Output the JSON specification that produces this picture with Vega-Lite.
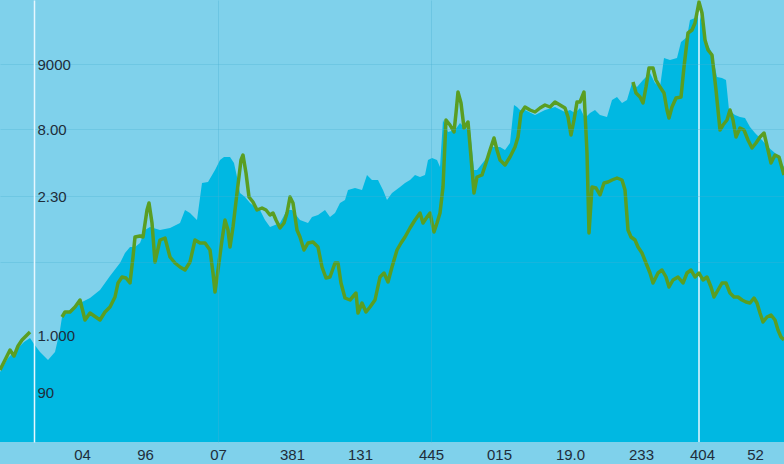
{
  "$schema": "https://vega.github.io/schema/vega-lite/v6.json",
  "width": 784,
  "height": 442,
  "autosize": {"type": "none"},
  "padding": {"left": 0, "top": 0, "right": 0, "bottom": 22},
  "background": "#7fd1eb",
  "config": {"view": {"stroke": null, "fill": "#7fd1eb"}},
  "datasets": {
    "area": [
      {"x":0,"v":70},{"x":8,"v":84},{"x":16,"v":92},{"x":24,"v":100},{"x":30,"v":104},{"x":34,"v":98},{"x":40,"v":90},{"x":48,"v":82},{"x":55,"v":90},{"x":60,"v":112},{"x":62,"v":125},{"x":70,"v":132},{"x":80,"v":139},{"x":90,"v":144},{"x":100,"v":152},{"x":110,"v":166},{"x":120,"v":179},{"x":125,"v":189},{"x":130,"v":195},{"x":135,"v":195},{"x":140,"v":199},{"x":145,"v":212},{"x":150,"v":215},{"x":160,"v":212},{"x":170,"v":214},{"x":180,"v":219},{"x":185,"v":232},{"x":190,"v":229},{"x":197,"v":222},{"x":202,"v":259},{"x":208,"v":260},{"x":215,"v":272},{"x":220,"v":282},{"x":224,"v":285},{"x":230,"v":285},{"x":234,"v":279},{"x":237,"v":265},{"x":240,"v":249},{"x":245,"v":245},{"x":250,"v":239},{"x":255,"v":235},{"x":260,"v":232},{"x":265,"v":222},{"x":270,"v":215},{"x":280,"v":219},{"x":287,"v":232},{"x":292,"v":232},{"x":300,"v":222},{"x":308,"v":219},{"x":312,"v":225},{"x":318,"v":227},{"x":325,"v":232},{"x":330,"v":225},{"x":335,"v":229},{"x":340,"v":239},{"x":345,"v":242},{"x":348,"v":252},{"x":355,"v":254},{"x":362,"v":252},{"x":367,"v":267},{"x":372,"v":262},{"x":378,"v":262},{"x":383,"v":252},{"x":387,"v":242},{"x":392,"v":249},{"x":400,"v":255},{"x":405,"v":259},{"x":410,"v":262},{"x":415,"v":267},{"x":420,"v":265},{"x":425,"v":267},{"x":428,"v":282},{"x":432,"v":284},{"x":437,"v":282},{"x":440,"v":275},{"x":443,"v":322},{"x":448,"v":310},{"x":455,"v":312},{"x":460,"v":319},{"x":465,"v":314},{"x":470,"v":312},{"x":474,"v":272},{"x":477,"v":272},{"x":485,"v":282},{"x":492,"v":295},{"x":500,"v":295},{"x":505,"v":292},{"x":510,"v":299},{"x":514,"v":337},{"x":517,"v":335},{"x":520,"v":332},{"x":525,"v":332},{"x":535,"v":327},{"x":545,"v":332},{"x":555,"v":335},{"x":565,"v":330},{"x":570,"v":332},{"x":575,"v":329},{"x":580,"v":334},{"x":585,"v":324},{"x":590,"v":329},{"x":595,"v":332},{"x":600,"v":327},{"x":607,"v":325},{"x":612,"v":342},{"x":617,"v":345},{"x":622,"v":339},{"x":627,"v":342},{"x":632,"v":359},{"x":637,"v":355},{"x":643,"v":362},{"x":650,"v":369},{"x":655,"v":359},{"x":660,"v":355},{"x":664,"v":384},{"x":670,"v":382},{"x":677,"v":384},{"x":681,"v":400},{"x":687,"v":405},{"x":690,"v":422},{"x":695,"v":424},{"x":699,"v":429},{"x":703,"v":415},{"x":707,"v":399},{"x":712,"v":389},{"x":717,"v":365},{"x":722,"v":364},{"x":726,"v":362},{"x":729,"v":332},{"x":735,"v":327},{"x":740,"v":325},{"x":745,"v":324},{"x":750,"v":315},{"x":755,"v":309},{"x":762,"v":302},{"x":768,"v":295},{"x":775,"v":289},{"x":784,"v":275}
    ],
    "line": [
      {"s":"a0","x":0,"v":72},{"s":"a0","x":5,"v":82},{"s":"a0","x":10,"v":92},{"s":"a0","x":14,"v":86},{"s":"a0","x":18,"v":96},{"s":"a0","x":22,"v":102},{"s":"a0","x":26,"v":106},{"s":"a0","x":30,"v":110},
      {"s":"a","x":62,"v":125},{"s":"a","x":65,"v":130},{"s":"a","x":70,"v":130},{"s":"a","x":75,"v":135},{"s":"a","x":80,"v":142},{"s":"a","x":85,"v":122},{"s":"a","x":90,"v":129},{"s":"a","x":100,"v":122},{"s":"a","x":105,"v":130},{"s":"a","x":110,"v":135},{"s":"a","x":115,"v":145},{"s":"a","x":118,"v":159},{"s":"a","x":122,"v":165},{"s":"a","x":126,"v":164},{"s":"a","x":130,"v":159},{"s":"a","x":133,"v":185},{"s":"a","x":135,"v":205},{"s":"a","x":140,"v":206},{"s":"a","x":143,"v":205},{"s":"a","x":147,"v":232},{"s":"a","x":149,"v":239},{"s":"a","x":152,"v":219},{"s":"a","x":155,"v":180},{"s":"a","x":160,"v":202},{"s":"a","x":165,"v":204},{"s":"a","x":170,"v":185},{"s":"a","x":175,"v":179},{"s":"a","x":180,"v":175},{"s":"a","x":185,"v":172},{"s":"a","x":190,"v":180},{"s":"a","x":195,"v":202},{"s":"a","x":200,"v":199},{"s":"a","x":205,"v":199},{"s":"a","x":210,"v":192},{"s":"a","x":213,"v":169},{"s":"a","x":215,"v":150},{"s":"a","x":218,"v":172},{"s":"a","x":222,"v":202},{"s":"a","x":225,"v":222},{"s":"a","x":228,"v":212},{"s":"a","x":230,"v":195},{"s":"a","x":233,"v":215},{"s":"a","x":237,"v":249},{"s":"a","x":241,"v":282},{"s":"a","x":243,"v":287},{"s":"a","x":246,"v":269},{"s":"a","x":249,"v":245},{"s":"a","x":253,"v":240},{"s":"a","x":257,"v":232},{"s":"a","x":262,"v":234},{"s":"a","x":266,"v":232},{"s":"a","x":270,"v":227},{"s":"a","x":273,"v":229},{"s":"a","x":276,"v":222},{"s":"a","x":280,"v":214},{"s":"a","x":284,"v":219},{"s":"a","x":287,"v":229},{"s":"a","x":290,"v":245},{"s":"a","x":293,"v":239},{"s":"a","x":297,"v":212},{"s":"a","x":300,"v":205},{"s":"a","x":304,"v":192},{"s":"a","x":308,"v":199},{"s":"a","x":313,"v":200},{"s":"a","x":318,"v":195},{"s":"a","x":322,"v":175},{"s":"a","x":326,"v":164},{"s":"a","x":330,"v":165},{"s":"a","x":335,"v":179},{"s":"a","x":338,"v":179},{"s":"a","x":341,"v":159},{"s":"a","x":345,"v":144},{"s":"a","x":350,"v":142},{"s":"a","x":356,"v":149},{"s":"a","x":358,"v":129},{"s":"a","x":362,"v":139},{"s":"a","x":366,"v":130},{"s":"a","x":370,"v":135},{"s":"a","x":375,"v":142},{"s":"a","x":380,"v":165},{"s":"a","x":384,"v":169},{"s":"a","x":388,"v":160},{"s":"a","x":392,"v":175},{"s":"a","x":397,"v":192},{"s":"a","x":401,"v":199},{"s":"a","x":405,"v":205},{"s":"a","x":410,"v":214},{"s":"a","x":415,"v":222},{"s":"a","x":420,"v":229},{"s":"a","x":423,"v":219},{"s":"a","x":427,"v":225},{"s":"a","x":430,"v":229},{"s":"a","x":434,"v":210},{"s":"a","x":437,"v":219},{"s":"a","x":440,"v":229},{"s":"a","x":443,"v":255},{"s":"a","x":446,"v":322},{"s":"a","x":450,"v":317},{"s":"a","x":454,"v":310},{"s":"a","x":456,"v":329},{"s":"a","x":458,"v":350},{"s":"a","x":461,"v":339},{"s":"a","x":464,"v":314},{"s":"a","x":468,"v":320},{"s":"a","x":471,"v":285},{"s":"a","x":474,"v":249},{"s":"a","x":477,"v":265},{"s":"a","x":482,"v":267},{"s":"a","x":486,"v":279},{"s":"a","x":490,"v":292},{"s":"a","x":494,"v":304},{"s":"a","x":497,"v":292},{"s":"a","x":500,"v":282},{"s":"a","x":505,"v":277},{"s":"a","x":510,"v":285},{"s":"a","x":515,"v":295},{"s":"a","x":518,"v":305},{"s":"a","x":521,"v":329},{"s":"a","x":525,"v":335},{"s":"a","x":530,"v":332},{"s":"a","x":535,"v":330},{"s":"a","x":540,"v":334},{"s":"a","x":545,"v":337},{"s":"a","x":550,"v":335},{"s":"a","x":555,"v":340},{"s":"a","x":560,"v":337},{"s":"a","x":565,"v":334},{"s":"a","x":568,"v":325},{"s":"a","x":571,"v":307},{"s":"a","x":574,"v":322},{"s":"a","x":577,"v":340},{"s":"a","x":580,"v":340},{"s":"a","x":584,"v":350},{"s":"a","x":587,"v":289},{"s":"a","x":589,"v":209},{"s":"a","x":592,"v":255},{"s":"a","x":596,"v":254},{"s":"a","x":600,"v":247},{"s":"a","x":604,"v":259},{"s":"a","x":608,"v":260},{"s":"a","x":612,"v":262},{"s":"a","x":617,"v":264},{"s":"a","x":622,"v":262},{"s":"a","x":625,"v":252},{"s":"a","x":628,"v":212},{"s":"a","x":631,"v":205},{"s":"a","x":635,"v":202},{"s":"a","x":638,"v":195},{"s":"a","x":642,"v":189},{"s":"a","x":646,"v":179},{"s":"a","x":650,"v":169},{"s":"a","x":653,"v":159},{"s":"a","x":658,"v":169},{"s":"a","x":662,"v":172},{"s":"a","x":666,"v":165},{"s":"a","x":669,"v":155},{"s":"a","x":673,"v":162},{"s":"a","x":678,"v":165},{"s":"a","x":683,"v":159},{"s":"a","x":687,"v":169},{"s":"a","x":691,"v":172},{"s":"a","x":695,"v":165},{"s":"a","x":699,"v":169},{"s":"a","x":703,"v":162},{"s":"a","x":707,"v":165},{"s":"a","x":711,"v":155},{"s":"a","x":714,"v":145},{"s":"a","x":718,"v":152},{"s":"a","x":722,"v":159},{"s":"a","x":726,"v":159},{"s":"a","x":730,"v":149},{"s":"a","x":734,"v":145},{"s":"a","x":738,"v":145},{"s":"a","x":742,"v":142},{"s":"a","x":746,"v":140},{"s":"a","x":750,"v":139},{"s":"a","x":754,"v":144},{"s":"a","x":757,"v":139},{"s":"a","x":760,"v":129},{"s":"a","x":763,"v":120},{"s":"a","x":767,"v":125},{"s":"a","x":771,"v":127},{"s":"a","x":775,"v":122},{"s":"a","x":778,"v":112},{"s":"a","x":781,"v":105},{"s":"a","x":784,"v":102},
      {"s":"b","x":633,"v":360},{"s":"b","x":636,"v":349},{"s":"b","x":640,"v":345},{"s":"b","x":643,"v":339},{"s":"b","x":646,"v":355},{"s":"b","x":649,"v":374},{"s":"b","x":653,"v":374},{"s":"b","x":656,"v":362},{"s":"b","x":660,"v":355},{"s":"b","x":664,"v":349},{"s":"b","x":667,"v":332},{"s":"b","x":669,"v":324},{"s":"b","x":672,"v":335},{"s":"b","x":676,"v":344},{"s":"b","x":681,"v":345},{"s":"b","x":684,"v":375},{"s":"b","x":688,"v":409},{"s":"b","x":692,"v":412},{"s":"b","x":695,"v":419},{"s":"b","x":699,"v":440},{"s":"b","x":702,"v":429},{"s":"b","x":705,"v":402},{"s":"b","x":708,"v":392},{"s":"b","x":712,"v":387},{"s":"b","x":716,"v":352},{"s":"b","x":720,"v":312},{"s":"b","x":723,"v":317},{"s":"b","x":727,"v":322},{"s":"b","x":730,"v":332},{"s":"b","x":733,"v":322},{"s":"b","x":736,"v":305},{"s":"b","x":740,"v":314},{"s":"b","x":744,"v":312},{"s":"b","x":748,"v":302},{"s":"b","x":752,"v":294},{"s":"b","x":756,"v":299},{"s":"b","x":760,"v":305},{"s":"b","x":764,"v":309},{"s":"b","x":768,"v":292},{"s":"b","x":771,"v":279},{"s":"b","x":775,"v":287},{"s":"b","x":779,"v":285},{"s":"b","x":784,"v":267}
    ],
    "marker": [{"x": 699}]
  },
  "layer": [
    {
      "data": {"name": "area"},
      "mark": {"type": "area", "color": "#00b8e2", "interpolate": "linear"},
      "encoding": {
        "x": {
          "field": "x", "type": "quantitative",
          "scale": {"domain": [0, 784], "nice": false, "zero": false},
          "axis": {
            "title": null,
            "values": [82, 145, 218, 292, 360, 431, 499, 570, 641, 702, 755],
            "labelExpr": "datum.value==82?'04':datum.value==145?'96':datum.value==218?'07':datum.value==292?'381':datum.value==360?'131':datum.value==431?'445':datum.value==499?'015':datum.value==570?'19.0':datum.value==641?'233':datum.value==702?'404':'52'",
            "domain": false, "ticks": false, "tickSize": 0, "labelPadding": 5,
            "labelFont": "Liberation Sans", "labelFontSize": 15, "labelColor": "#1e2d3a",
            "labelOverlap": false, "labelFlush": false,
            "zindex": 1,
            "grid": true, "gridColor": "#4aaed2",
            "gridOpacity": {"condition": {"test": "datum.value==218||datum.value==431", "value": 0.35}, "value": 0}
          }
        },
        "y": {
          "field": "v", "type": "quantitative",
          "scale": {"domain": [0, 442], "nice": false, "zero": false},
          "axis": {
            "title": null, "orient": "left", "offset": -34,
            "values": [378, 313, 246, 180, 107, 50],
            "labelExpr": "datum.value==378?'9000':datum.value==313?'8.00':datum.value==246?'2.30':datum.value==107?'1.000':datum.value==50?'90':''",
            "labelAlign": "left", "labelPadding": -3, "ticks": false, "tickSize": 0,
            "domainColor": "#e6f7ff", "domainWidth": 1.5,
            "labelFont": "Liberation Sans", "labelFontSize": 15, "labelColor": "#1e2d3a",
            "zindex": 1,
            "grid": true, "gridColor": "#4aaed2",
            "gridOpacity": {"condition": {"test": "datum.value<150", "value": 0}, "value": 0.3}
          }
        }
      }
    },
    {
      "data": {"name": "marker"},
      "mark": {"type": "rule", "color": "#e6f7ff", "strokeWidth": 1.5},
      "encoding": {"x": {"field": "x", "type": "quantitative"}}
    },
    {
      "data": {"name": "line"},
      "mark": {"type": "line", "color": "#5a9e22", "strokeWidth": 3.5, "strokeJoin": "round"},
      "encoding": {
        "x": {"field": "x", "type": "quantitative"},
        "y": {"field": "v", "type": "quantitative"},
        "detail": {"field": "s"}
      }
    }
  ]
}
